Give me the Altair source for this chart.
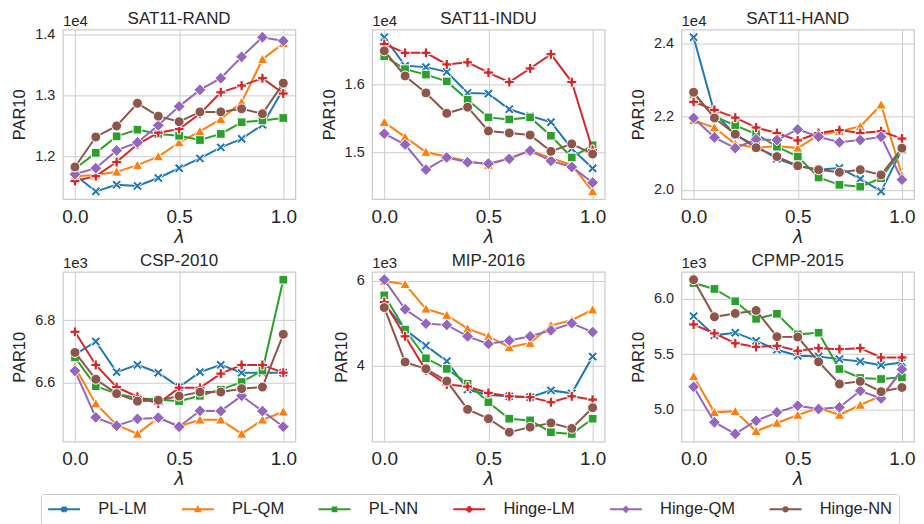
import altair as alt
import pandas as pd

lam = [0.0, 0.1, 0.2, 0.3, 0.4, 0.5, 0.6, 0.7, 0.8, 0.9, 1.0]
methods = ["PL-LM", "PL-QM", "PL-NN", "Hinge-LM", "Hinge-QM", "Hinge-NN"]
colors = ["#1f77b4", "#ff7f0e", "#2ca02c", "#d62728", "#9467bd", "#8c564b"]

SAT11_RAND = {
    "PL-LM":    [11700, 11430, 11540, 11520, 11650, 11810, 11970, 12150, 12290, 12520, 13100],
    "PL-QM":    [11680, 11700, 11750, 11860, 12000, 12230, 12410, 12610, 12890, 13590, 13850],
    "PL-NN":    [11800, 12060, 12330, 12440, 12370, 12340, 12270, 12370, 12560, 12590, 12630],
    "Hinge-LM": [11600, 11680, 11910, 12200, 12390, 12450, 12700, 13050, 13160, 13280, 13030],
    "Hinge-QM": [11710, 11810, 12100, 12230, 12510, 12820, 13090, 13280, 13630, 13950, 13890],
    "Hinge-NN": [11830, 12320, 12500, 12870, 12660, 12570, 12730, 12730, 12780, 12700, 13200],
}
SAT11_INDU = {
    "PL-LM":    [16690, 16270, 16250, 16180, 15870, 15860, 15630, 15530, 15440, 15050, 14760],
    "PL-QM":    [15440, 15220, 15000, 14930, 14870, 14810, 14910, 15020, 14910, 14810, 14420],
    "PL-NN":    [16410, 16220, 16140, 16040, 15770, 15510, 15480, 15510, 15240, 14920, 15100],
    "Hinge-LM": [16590, 16460, 16460, 16290, 16320, 16170, 16030, 16230, 16440, 16030, 15030],
    "Hinge-QM": [15270, 15110, 14740, 14920, 14850, 14830, 14900, 15020, 14870, 14780, 14550],
    "Hinge-NN": [16490, 16120, 15870, 15570, 15660, 15310, 15280, 15250, 15010, 15120, 14970],
}
SAT11_HAND = {
    "PL-LM":    [24160, 22100, 21500, 21200, 20850, 20650, 20550, 20600, 20300, 19960, 21100],
    "PL-QM":    [21900, 21700, 21250, 21150, 21200, 21140, 21500, 21600, 21730, 22320, 20400],
    "PL-NN":    [22600, 22000, 21760, 21520, 21180, 20910, 20340, 20140, 20090, 20320, 21100],
    "Hinge-LM": [22400, 22180, 21970, 21700, 21550, 21350, 21550, 21630, 21550, 21600, 21400],
    "Hinge-QM": [21960, 21430, 21140, 21380, 21360, 21650, 21450, 21300, 21360, 21450, 20280],
    "Hinge-NN": [22660, 21960, 21520, 21150, 20910, 20660, 20550, 20480, 20550, 20410, 21140],
}
CSP_2010 = {
    "PL-LM":    [6690, 6732, 6634, 6657, 6632, 6586, 6634, 6657, 6632, 6632, 6632],
    "PL-QM":    [6650, 6533, 6465, 6436, 6488, 6460, 6481, 6481, 6436, 6481, 6507],
    "PL-NN":    [6681, 6589, 6565, 6550, 6546, 6541, 6558, 6578, 6602, 6639, 6930],
    "Hinge-LM": [6763, 6657, 6586, 6555, 6533, 6584, 6584, 6629, 6657, 6657, 6632],
    "Hinge-QM": [6638, 6489, 6462, 6484, 6488, 6459, 6510, 6509, 6558, 6509, 6459],
    "Hinge-NN": [6697, 6611, 6565, 6541, 6544, 6557, 6570, 6570, 6581, 6586, 6755],
}
MIP_2016 = {
    "PL-LM":    [5450, 4850, 4470, 4100, 3430, 3300, 3270, 3250, 3410, 3340, 4210],
    "PL-QM":    [6000, 5920, 5340, 5190, 4870, 4690, 4430, 4530, 4950, 5070, 5320],
    "PL-NN":    [5660, 4850, 4170, 3920, 3570, 3130, 2740, 2700, 2420, 2380, 2740],
    "Hinge-LM": [5500, 4690, 3880, 3550, 3500, 3350, 3270, 3250, 3130, 3270, 3190],
    "Hinge-QM": [6030, 5330, 4990, 4960, 4690, 4510, 4590, 4690, 4830, 5000, 4790],
    "Hinge-NN": [5370, 4080, 3920, 3630, 2960, 2740, 2420, 2540, 2640, 2510, 3000],
}
CPMP_2015 = {
    "PL-LM":    [5842, 5669, 5693, 5619, 5539, 5485, 5479, 5455, 5434, 5401, 5425],
    "PL-QM":    [5300, 4976, 4985, 4806, 4880, 4952, 5015, 4952, 5042, 5125, 5340],
    "PL-NN":    [6140, 6087, 5976, 5818, 5863, 5678, 5693, 5366, 5285, 5276, 5291],
    "Hinge-LM": [5767, 5687, 5598, 5565, 5575, 5530, 5554, 5545, 5554, 5470, 5470],
    "Hinge-QM": [5206, 4887, 4782, 4901, 4976, 5036, 5006, 5021, 5170, 5101, 5363],
    "Hinge-NN": [6170, 5836, 5866, 5893, 5657, 5654, 5431, 5231, 5255, 5162, 5200],
}

panel_titles = ["SAT11-RAND", "SAT11-INDU", "SAT11-HAND", "CSP-2010", "MIP-2016", "CPMP-2015"]
panel_tables = [SAT11_RAND, SAT11_INDU, SAT11_HAND, CSP_2010, MIP_2016, CPMP_2015]
panel_ticks = [[12000, 13000, 14000], [15000, 16000], [20000, 22000, 24000],
               [6600, 6800], [4000, 6000], [5000, 5500, 6000]]
panel_exp = [4, 4, 4, 3, 3, 3]
panel_dec = [1, 1, 1, 1, 0, 1]
x_ticks = [0.0, 0.5, 1.0]

FONT = "Liberation Sans"
INK = "#262626"
W, H = 233, 170

MARKERS = {
    "PL-LM": "M-1,-0.6L-0.6,-1L0,-0.4L0.6,-1L1,-0.6L0.4,0L1,0.6L0.6,1L0,0.4L-0.6,1L-1,0.6L-0.4,0Z",
    "PL-QM": "M0,-1.1L1.1,0.9L-1.1,0.9Z",
    "PL-NN": "M-0.92,-0.92L0.92,-0.92L0.92,0.92L-0.92,0.92Z",
    "Hinge-LM": "M-1.05,-0.34L-0.34,-0.34L-0.34,-1.05L0.34,-1.05L0.34,-0.34L1.05,-0.34L1.05,0.34L0.34,0.34L0.34,1.05L-0.34,1.05L-0.34,0.34L-1.05,0.34Z",
    "Hinge-QM": "M0,-1.25L1.25,0L0,1.25L-1.25,0Z",
    "Hinge-NN": "M-1.05,0A1.05,1.05,0,1,1,1.05,0A1.05,1.05,0,1,1,-1.05,0Z",
}
STUB = "M-8,0L8,0"
LEGEND_PATHS = [STUB + MARKERS[m] for m in methods]


def make_panel(i):
    table = panel_tables[i]
    df = pd.DataFrame([{"lam": l, "value": v, "method": m}
                       for m in methods for l, v in zip(lam, table[m])])
    lo, hi = df["value"].min(), df["value"].max()
    pad = 0.05 * (hi - lo)
    xsc = alt.Scale(domain=[-0.058, 1.058], nice=False, zero=False)
    ysc = alt.Scale(domain=[lo - pad, hi + pad], nice=False, zero=False)
    div = 10 ** panel_exp[i]
    xax = alt.Axis(values=x_ticks, format=".1f", title="λ", labelFontSize=19,
                   labelPadding=8, titlePadding=2, titleFont="DejaVu Sans",
                   titleFontStyle="italic", titleFontSize=18, labelFlush=False)
    yax = alt.Axis(values=panel_ticks[i],
                   labelExpr=f"format(datum.value / {div}, '.{panel_dec[i]}f')",
                   title="PAR10", labelFontSize=14.5, labelPadding=8,
                   titlePadding=7, titleFontSize=16.5, labelFlush=False)
    X = alt.X("lam:Q", scale=xsc, axis=xax)
    Y = alt.Y("value:Q", scale=ysc, axis=yax)
    base = alt.Chart(df)
    layers = []
    for m, c in zip(methods, colors):
        sub = base.transform_filter(alt.datum.method == m)
        layers.append(sub.mark_line(color=c, strokeWidth=2).encode(x=X, y=Y))
        layers.append(sub.mark_point(shape=MARKERS[m], filled=True, fill=c, stroke="white",
                                     strokeWidth=1, size=90, opacity=1).encode(x=X, y=Y))
    head = pd.DataFrame({"t": [panel_titles[i]]})
    layers.append(alt.Chart(head).mark_text(font=FONT, fontSize=17, color=INK, align="center",
                                            baseline="alphabetic")
                  .encode(text="t:N", x=alt.value(W / 2), y=alt.value(-6)))
    off = pd.DataFrame({"t": [f"1e{panel_exp[i]}"]})
    layers.append(alt.Chart(off).mark_text(font=FONT, fontSize=15, color=INK, align="left",
                                           baseline="alphabetic")
                  .encode(text="t:N", x=alt.value(0), y=alt.value(-4)))
    if i == 5:
        leg = pd.DataFrame({"method": methods})
        legend = alt.Legend(title=None, orient="none", legendX=-22, legendY=465.5,
                            direction="horizontal", columns=6, columnPadding=30,
                            gridAlign="each",
                            padding=7, strokeColor="#cccccc", fillColor="white",
                            cornerRadius=3, symbolOffset=8, labelOffset=26,
                            symbolSize=16, symbolStrokeWidth=2, symbolOpacity=1,
                            labelFont=FONT, labelFontSize=16.5, labelColor=INK)
        layers.append(alt.Chart(leg).mark_point(filled=True, clip=True, strokeWidth=2, size=1)
                      .encode(x=alt.value(-40), y=alt.value(-40),
                              fill=alt.Fill("method:N", scale=alt.Scale(domain=methods, range=colors), legend=legend),
                              stroke=alt.Stroke("method:N", scale=alt.Scale(domain=methods, range=colors), legend=legend),
                              shape=alt.Shape("method:N", scale=alt.Scale(domain=methods, range=LEGEND_PATHS), legend=legend)))
    return alt.layer(*layers).properties(width=W, height=H)


chart = (
    alt.concat(*[make_panel(i) for i in range(6)], columns=3,
               spacing={"row": 73, "column": 77}, bounds="flush")
    .properties(padding={"left": 3, "top": 0, "right": 0, "bottom": 0}, background="white")
    .configure_view(stroke="#cccccc", strokeWidth=1.25)
    .configure_axis(domain=False, ticks=False, grid=True, gridColor="#cccccc", gridWidth=1,
                    labelFont=FONT, labelColor=INK, titleFont=FONT, titleColor=INK,
                    titleFontWeight="normal")
    .configure_legend(symbolOpacity=1)
)

chart.save("out.html", embed_options={"renderer": "svg", "actions": False})
